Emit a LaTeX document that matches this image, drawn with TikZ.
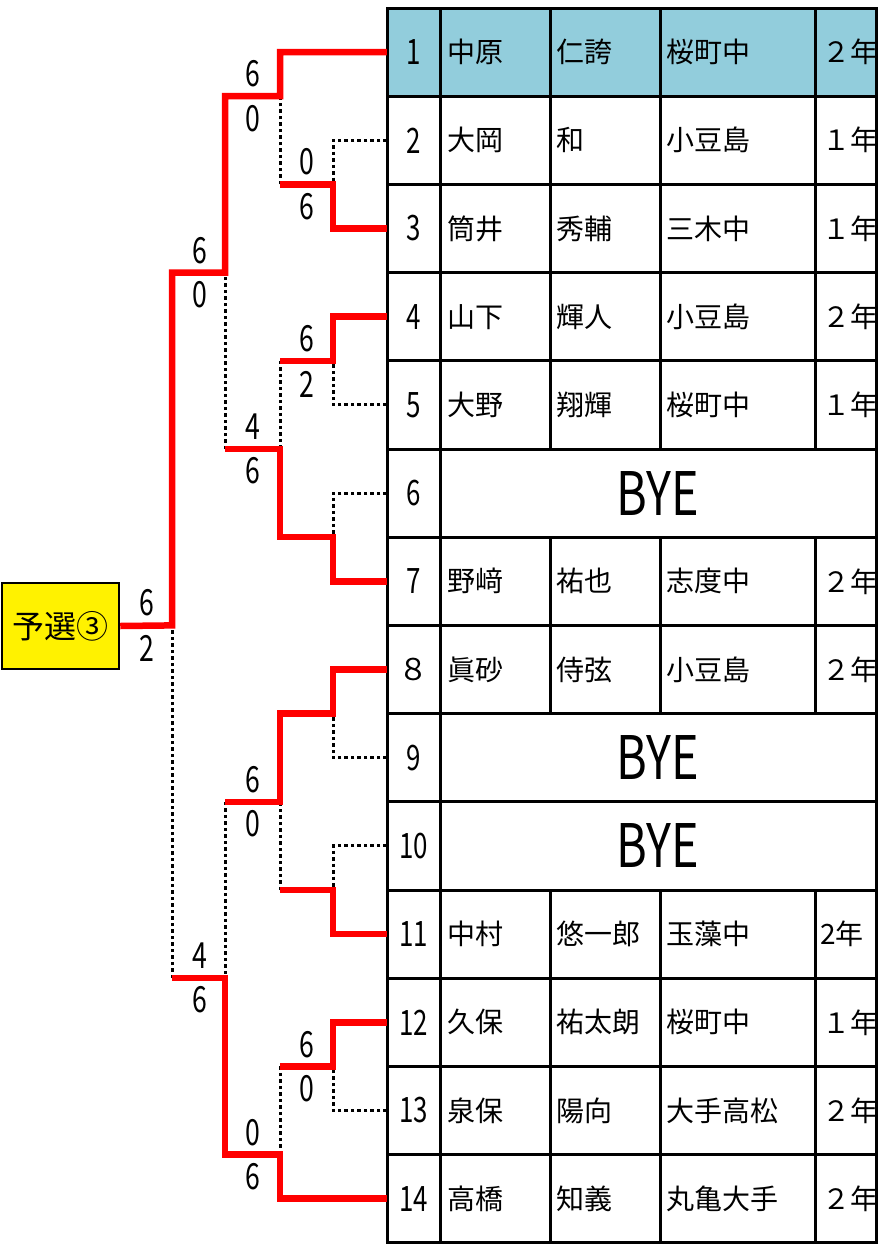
\documentclass[tikz,border=0pt]{standalone}
\usepackage{fontspec}
\setmainfont{Noto Sans CJK JP}
\newfontfamily\narrowfont[FakeStretch=0.74]{Noto Sans CJK JP}
\newfontfamily\byefont[FakeStretch=0.78]{Noto Sans CJK JP}
\definecolor{headblue}{HTML}{92CDDC}
\begin{document}
\begin{tikzpicture}[x=1pt,y=-1pt,
  win/.style={draw=red, line width=6.5pt, line join=miter},
  lose/.style={draw=black, line width=3pt, dash pattern=on 3.5pt off 3pt},
  grid/.style={draw=black, line width=3pt},
  cell/.style={font=\fontsize{28}{28}\selectfont, anchor=west, inner sep=0pt},
  num/.style={font=\narrowfont\fontsize{35}{35}\selectfont, minimum width=53pt, minimum height=88pt, inner sep=0pt},
  score/.style={font=\narrowfont\fontsize{36}{36}\selectfont, inner sep=0pt},
  bye/.style={font=\byefont\fontsize{60}{60}\selectfont, inner sep=0pt}]
\useasboundingbox (0,0) rectangle (895,1245);

% header fill
\fill[headblue] (387,8) rectangle (876,96.2);

% row number nodes
\node[num] (n1) at (413.5,52.1) {1};
\node[num] (n2) at (413.5,140.3) {2};
\node[num] (n3) at (413.5,228.5) {3};
\node[num] (n4) at (413.5,316.7) {4};
\node[num] (n5) at (413.5,404.9) {5};
\node[num] (n6) at (413.5,493.1) {6};
\node[num] (n7) at (413.5,581.3) {7};
\node[num, font=\fontsize{30}{30}\selectfont] (n8) at (413.5,669.5) {８};
\node[num] (n9) at (413.5,757.7) {9};
\node[num] (n10) at (413.5,845.9) {10};
\node[num] (n11) at (413.5,934.1) {11};
\node[num] (n12) at (413.5,1022.3) {12};
\node[num] (n13) at (413.5,1110.5) {13};
\node[num] (n14) at (413.5,1198.7) {14};

% family names
\node[cell] (fa1) at (447,52.1) {中原};
\node[cell] (fa2) at (447,140.3) {大岡};
\node[cell] (fa3) at (447,228.5) {筒井};
\node[cell] (fa4) at (447,316.7) {山下};
\node[cell] (fa5) at (447,404.9) {大野};
\node[cell] (fa7) at (447,581.3) {野﨑};
\node[cell] (fa8) at (447,669.5) {眞砂};
\node[cell] (fa11) at (447,934.1) {中村};
\node[cell] (fa12) at (447,1022.3) {久保};
\node[cell] (fa13) at (447,1110.5) {泉保};
\node[cell] (fa14) at (447,1198.7) {高橋};
% given names
\node[cell] (gv1) at (556,52.1) {仁誇};
\node[cell] (gv2) at (556,140.3) {和};
\node[cell] (gv3) at (556,228.5) {秀輔};
\node[cell] (gv4) at (556,316.7) {輝人};
\node[cell] (gv5) at (556,404.9) {翔輝};
\node[cell] (gv7) at (556,581.3) {祐也};
\node[cell] (gv8) at (556,669.5) {侍弦};
\node[cell] (gv11) at (556,934.1) {悠一郎};
\node[cell] (gv12) at (556,1022.3) {祐太朗};
\node[cell] (gv13) at (556,1110.5) {陽向};
\node[cell] (gv14) at (556,1198.7) {知義};
% schools
\node[cell] (sc1) at (666,52.1) {桜町中};
\node[cell] (sc2) at (666,140.3) {小豆島};
\node[cell] (sc3) at (666,228.5) {三木中};
\node[cell] (sc4) at (666,316.7) {小豆島};
\node[cell] (sc5) at (666,404.9) {桜町中};
\node[cell] (sc7) at (666,581.3) {志度中};
\node[cell] (sc8) at (666,669.5) {小豆島};
\node[cell] (sc11) at (666,934.1) {玉藻中};
\node[cell] (sc12) at (666,1022.3) {桜町中};
\node[cell] (sc13) at (666,1110.5) {大手高松};
\node[cell] (sc14) at (666,1198.7) {丸亀大手};
% grades (clipped)
\begin{scope}
\clip (815,8) rectangle (876,1243);
\node[cell] (gr1) at (822,52.1) {２年};
\node[cell] (gr2) at (822,140.3) {１年};
\node[cell] (gr3) at (822,228.5) {１年};
\node[cell] (gr4) at (822,316.7) {２年};
\node[cell] (gr5) at (822,404.9) {１年};
\node[cell] (gr7) at (822,581.3) {２年};
\node[cell] (gr8) at (822,669.5) {２年};
\node[cell] (gr11) at (820,934.1) {2年};
\node[cell] (gr12) at (822,1022.3) {１年};
\node[cell] (gr13) at (822,1110.5) {２年};
\node[cell] (gr14) at (822,1198.7) {２年};
\end{scope}
% BYE
\node[bye] (bye6) at (658,493.1) {BYE};
\node[bye] (bye9) at (658,757.7) {BYE};
\node[bye] (bye10) at (658,845.9) {BYE};

% table grid
\draw[grid] (387,8) rectangle (876,1242.8);
\draw[grid] (440,8) -- (440,1242.8);
\foreach \x in {550,660,815} {
  \draw[grid] (\x,8) -- (\x,449.0);
  \draw[grid] (\x,537.2) -- (\x,713.6);
  \draw[grid] (\x,890.0) -- (\x,1242.8);
}
\foreach \k in {1,...,13} {
  \draw[grid] (387,{8+88.2*\k}) -- (876,{8+88.2*\k});
}

% preliminary box
\node[draw, fill=yellow, line width=2.5pt, minimum width=117pt, minimum height=86pt, inner sep=0pt,
  font=\fontsize{32}{32}\selectfont] (pre) at (60.5,626) {予選③};

% junction coordinates
\coordinate (m23) at (333,184.4);
\coordinate (m45) at (333,360.8);
\coordinate (m67) at (333,537.2);
\coordinate (m89) at (333,713.6);
\coordinate (m1011) at (333,890.0);
\coordinate (m1213) at (333,1066.4);
\coordinate (q1) at (280,96.2);
\coordinate (q2) at (280,449.0);
\coordinate (q3) at (280,801.8);
\coordinate (q4) at (280,1154.6);
\coordinate (s1) at (225,272.6);
\coordinate (s2) at (225,978.2);
\coordinate (f) at (172,625.4);

% losing (dotted) connectors
\draw[lose] (n2.west) -| (m23);
\draw[lose] (m23 -| q1) -- (q1);
\draw[lose] (n5.west) -| (m45);
\draw[lose] (n6.west) -| (m67);
\draw[lose] (m45 -| q2) -- (q2);
\draw[lose] (q2 -| s1) -- (s1);
\draw[lose] (n9.west) -| (m89);
\draw[lose] (n10.west) -| (m1011);
\draw[lose] (m1011 -| q3) -- (q3);
\draw[lose] (q3 -| s2) -- (s2);
\draw[lose] (n13.west) -| (m1213);
\draw[lose] (m1213 -| q4) -- (q4);
\draw[lose] (s2 -| f) -- (f);

% winning (red) connectors
\draw[win] (n1.west) -| (q1) -- (q1 -| s1) -- (s1) -- (s1 -| f) -- (f) -- (pre.east);
\draw[win] (n3.west) -| (m23) -- (m23 -| q1);
\draw[win] (n4.west) -| (m45) -- (m45 -| q2);
\draw[win] (n7.west) -| (m67) -- (m67 -| q2) -- (q2) -- (q2 -| s1);
\draw[win] (n8.west) -| (m89) -- (m89 -| q3) -- (q3) -- (q3 -| s2);
\draw[win] (n11.west) -| (m1011) -- (m1011 -| q3);
\draw[win] (n12.west) -| (m1213) -- (m1213 -| q4);
\draw[win] (n14.west) -| (q4) -- (q4 -| s2) -- (s2) -- (s2 -| f);

% scores
\node[score] (sa23) at (307,162) {0};
\node[score] (sb23) at (307,207) {6};
\node[score] (saq1) at (253,74) {6};
\node[score] (sbq1) at (253,119) {0};
\node[score] (sa45) at (307,339) {6};
\node[score] (sb45) at (307,384) {2};
\node[score] (saq2) at (253,427) {4};
\node[score] (sbq2) at (253,471) {6};
\node[score] (sas1) at (200,251) {6};
\node[score] (sbs1) at (200,295) {0};
\node[score] (saf) at (147,603) {6};
\node[score] (sbf) at (147,648) {2};
\node[score] (saq3) at (253,780) {6};
\node[score] (sbq3) at (253,824) {0};
\node[score] (sas2) at (200,956) {4};
\node[score] (sbs2) at (200,1000) {6};
\node[score] (sa1213) at (307,1045) {6};
\node[score] (sb1213) at (307,1089) {0};
\node[score] (saq4) at (253,1133) {0};
\node[score] (sbq4) at (253,1177) {6};
\end{tikzpicture}
\end{document}
